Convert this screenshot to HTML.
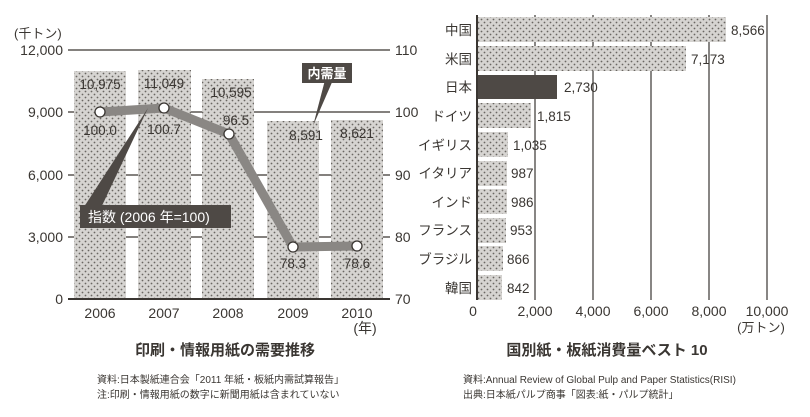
<!DOCTYPE html>
<html><head><meta charset="utf-8">
<style>
body{margin:0;background:#fff;}
svg text{font-family:"Liberation Sans","Noto Sans CJK JP",sans-serif;fill:#3a3632;}
</style></head><body>
<svg width="810" height="412" viewBox="0 0 810 412" xmlns="http://www.w3.org/2000/svg">
<defs>
<pattern id="dots" width="6" height="6" patternUnits="userSpaceOnUse">
<rect width="6" height="6" fill="#d6d4d1"/>
<circle cx="1.5" cy="1.5" r="0.9" fill="#6a6662"/>
<circle cx="4.5" cy="4.5" r="0.9" fill="#6a6662"/>
</pattern>
</defs>
<g stroke="#3a3632" stroke-width="1.2">
<line x1="68" y1="50" x2="390" y2="50"/>
<line x1="68" y1="112" x2="390" y2="112"/>
<line x1="68" y1="175" x2="390" y2="175"/>
<line x1="68" y1="237" x2="390" y2="237"/>
</g>
<g fill="url(#dots)">
<rect x="74" y="71" width="52" height="228"/>
<rect x="138" y="70" width="53" height="229"/>
<rect x="202" y="79" width="52" height="220"/>
<rect x="267" y="121" width="52" height="178"/>
<rect x="331" y="120" width="52" height="179"/>
</g>
<line x1="68" y1="299" x2="390" y2="299" stroke="#3a3632" stroke-width="2"/>
<g font-size="14" text-anchor="end">
<text x="63" y="55">12,000</text><text x="63" y="117">9,000</text><text x="63" y="180">6,000</text><text x="63" y="242">3,000</text><text x="63" y="304">0</text>
</g>
<text x="14" y="38" font-size="13">(千トン)</text>
<g font-size="14">
<text x="395" y="55">110</text><text x="395" y="117">100</text><text x="395" y="180">90</text><text x="395" y="242">80</text><text x="395" y="304">70</text>
</g>
<g font-size="14" text-anchor="middle">
<text x="100" y="318">2006</text><text x="164" y="318">2007</text><text x="228" y="318">2008</text><text x="293" y="318">2009</text><text x="357" y="318">2010</text>
<text x="365" y="333">(年)</text>
</g>
<g font-size="13.5" text-anchor="middle">
<text x="100" y="89">10,975</text><text x="164" y="88">11,049</text><text x="231" y="97">10,595</text><text x="306" y="140">8,591</text><text x="357" y="138">8,621</text>
</g>
<polygon points="325,80 333,80 313,126" fill="#4e4945"/>
<rect x="302" y="63" width="50" height="20" fill="#4e4945"/>
<text x="327" y="78" font-size="13" text-anchor="middle" font-weight="bold" style="fill:#fff">内需量</text>
<polyline points="100,112 164,108 229,134 293,247 357,246" fill="none" stroke="#8a8784" stroke-width="9" stroke-linejoin="round"/>
<polygon points="82,210 100,210 148,108" fill="#4e4945"/>
<rect x="80" y="205" width="151" height="23" fill="#4e4945"/>
<text x="88" y="222" font-size="14" style="fill:#fff">指数 (2006 年=100)</text>
<g fill="#fff" stroke="#3a3632" stroke-width="1.3">
<circle cx="100" cy="112" r="5"/><circle cx="164" cy="108" r="5"/><circle cx="229" cy="134" r="5"/><circle cx="293" cy="247" r="5"/><circle cx="357" cy="246" r="5"/>
</g>
<g font-size="13.5" text-anchor="middle">
<text x="100" y="135">100.0</text><text x="164" y="134">100.7</text><text x="236" y="125">96.5</text><text x="293" y="268">78.3</text><text x="357" y="268">78.6</text>
</g>
<text x="225" y="355" font-size="15" text-anchor="middle" font-weight="bold">印刷・情報用紙の需要推移</text>
<text x="97" y="383" font-size="10">資料:日本製紙連合会「2011 年紙・板紙内需試算報告」</text>
<text x="97" y="398" font-size="10">注:印刷・情報用紙の数字に新聞用紙は含まれていない</text>

<g stroke="#3a3632" stroke-width="1.2">
<line x1="535" y1="15" x2="535" y2="300"/><line x1="593" y1="15" x2="593" y2="300"/><line x1="651" y1="15" x2="651" y2="300"/><line x1="709" y1="15" x2="709" y2="300"/><line x1="767" y1="15" x2="767" y2="300"/>
</g>
<g fill="url(#dots)">
<rect x="478" y="17" width="248" height="25"/>
<rect x="478" y="46" width="208" height="25"/>
<rect x="478" y="103" width="53" height="25"/>
<rect x="478" y="132" width="30" height="25"/>
<rect x="478" y="161" width="29" height="25"/>
<rect x="478" y="189" width="29" height="25"/>
<rect x="478" y="218" width="28" height="25"/>
<rect x="478" y="246" width="25" height="25"/>
<rect x="478" y="275" width="24" height="25"/>
</g>
<rect x="478" y="75" width="79" height="24" fill="#4e4945"/>
<line x1="477" y1="15" x2="477" y2="300" stroke="#3a3632" stroke-width="2"/>
<g font-size="13.5" text-anchor="end">
<text x="472" y="35">中国</text><text x="472" y="64">米国</text><text x="472" y="92">日本</text><text x="472" y="121">ドイツ</text><text x="472" y="150">イギリス</text><text x="472" y="178">イタリア</text><text x="472" y="207">インド</text><text x="472" y="235">フランス</text><text x="472" y="264">ブラジル</text><text x="472" y="293">韓国</text>
</g>
<g font-size="13.5">
<text x="731" y="35">8,566</text><text x="691" y="64">7,173</text><text x="564" y="92">2,730</text><text x="537" y="121">1,815</text><text x="513" y="150">1,035</text><text x="511" y="178">987</text><text x="511" y="207">986</text><text x="510" y="235">953</text><text x="507" y="264">866</text><text x="507" y="293">842</text>
</g>
<g font-size="14" text-anchor="middle">
<text x="473" y="316">0</text><text x="535" y="316">2,000</text><text x="593" y="316">4,000</text><text x="651" y="316">6,000</text><text x="709" y="316">8,000</text><text x="767" y="316">10,000</text>
</g>
<text x="761" y="332" font-size="13" text-anchor="middle">(万トン)</text>
<text x="607" y="355" font-size="15" text-anchor="middle" font-weight="bold">国別紙・板紙消費量ベスト 10</text>
<text x="463" y="383" font-size="10">資料:Annual Review of Global Pulp and Paper Statistics(RISI)</text>
<text x="463" y="398" font-size="10">出典:日本紙パルプ商事「図表:紙・パルプ統計」</text>
</svg>
</body></html>
